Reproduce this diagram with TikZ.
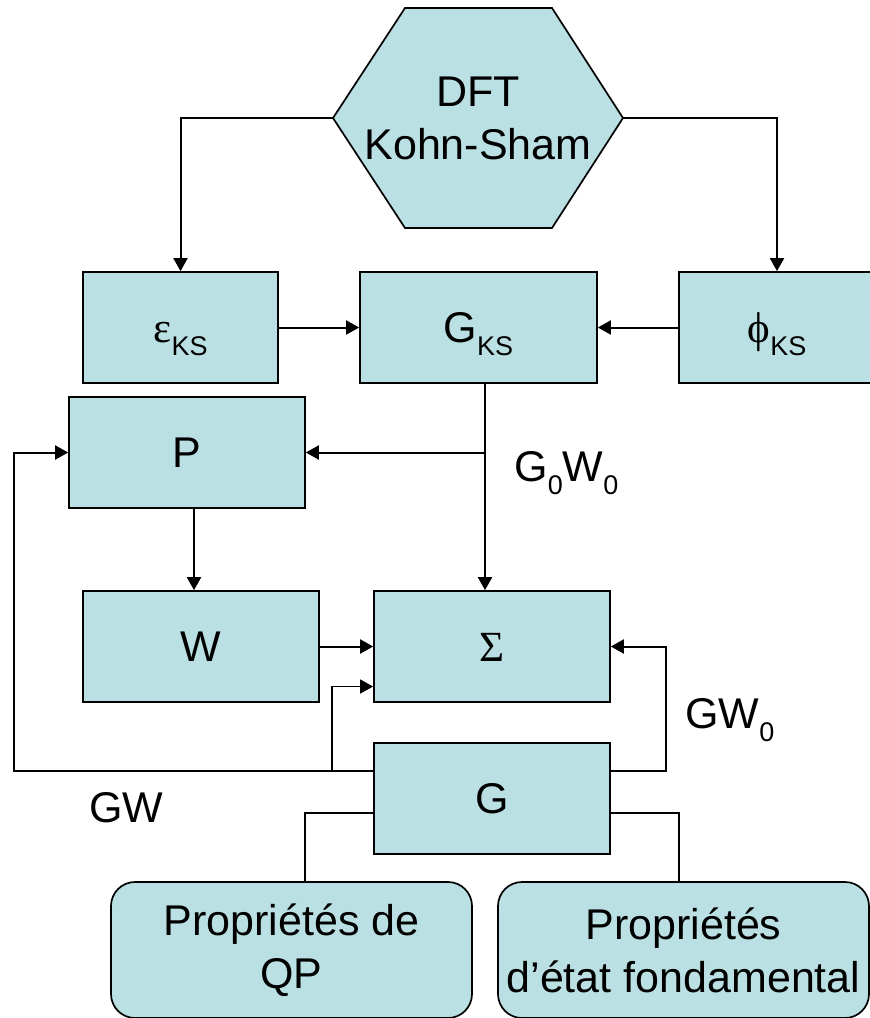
\documentclass[tikz,border=0pt]{standalone}
\usepackage{fontspec}
\setmainfont{Liberation Sans}
\newfontfamily\grkfont{Liberation Serif}
\usetikzlibrary{arrows.meta}
\definecolor{boxfill}{RGB}{187,224,227}
\newcommand{\lowsub}[1]{\raisebox{-6.5pt}{\fontsize{13.5}{13.5}\selectfont #1}}
\begin{document}
\begin{tikzpicture}[x=0.5pt,y=-0.5pt,
  font=\fontsize{21.5}{26.5}\selectfont,
  box/.style={draw=black, line width=0.85pt, fill=boxfill, inner sep=0pt,
    text height=15.4pt, text depth=0pt, minimum height=55.5pt},
  rbox/.style={draw=black, line width=0.85pt, fill=boxfill, inner sep=0pt,
    rounded corners=12pt, align=center, minimum height=68pt},
  arr/.style={line width=1pt, -{Triangle[length=6.5pt,width=7pt]}},
  arrthin/.style={line width=0.75pt, -{Triangle[length=6.5pt,width=7pt]}},
  thinline/.style={line width=0.75pt},
  lbl/.style={anchor=base west, inner sep=0pt}]
\useasboundingbox (0,0) rectangle (870,1018);
\clip (0,0) rectangle (870,1018);
% hexagon
\draw[line width=0.85pt, fill=boxfill] (405,8) -- (552,8) -- (623,118) -- (552,228) -- (405,228) -- (333,118) -- cycle;
\coordinate (hexL) at (333,118);
\coordinate (hexR) at (623,118);
\node[align=center, inner sep=0pt, text depth=0pt] (dft) at (478,118) {DFT\\Kohn-Sham};
% boxes
\node[box, minimum width=97.5pt] (eps) at (180.5,327.5) {{\grkfont ε}\lowsub{KS}};
\node[box, minimum width=118.5pt] (gks) at (478.5,327.5) {G\lowsub{KS}};
\node[box, minimum width=98pt] (phi) at (777,327.5) {{\grkfont ϕ}\lowsub{KS}};
\node[box, minimum width=118pt] (P) at (187,452.5) {P};
\node[box, minimum width=118pt] (W) at (201,646.5) {W};
\node[box, minimum width=118pt] (sig) at (492,646.5) {\grkfont Σ};
\node[box, minimum width=118pt] (G) at (492,798.5) {G};
\node[rbox, minimum width=180.5pt] (qp) at (291.5,950) {Propriétés de\\QP};
\node[rbox, minimum width=185.5pt] (fond) at (683.5,950) {Propriétés\\d’état fondamental};
% helper coordinates
\coordinate (c485) at (485,0);
\coordinate (c194) at (194,0);
\coordinate (gwy) at (0,771);
\coordinate (gy2) at (0,813);
\coordinate (loopL) at (14,600);
\coordinate (loopR) at (666,700);
\coordinate (brx) at (332,0);
\coordinate (c305) at (305,0);
\coordinate (c679) at (679,0);
\path (sig.west) ++(0,40) coordinate (s2);
% connectors
\draw[arr] (hexL) -| (eps.north);
\draw[arr] (hexR) -| (phi.north);
\draw[arr] (eps.east) -- (gks.west);
\draw[arr] (phi.west) -- (gks.east);
\draw[arr] (gks.south -| c485) -- (sig.north -| c485);
\draw[arr] (c485 |- P.east) -- (P.east);
\draw[arr] (P.south -| c194) -- (W.north -| c194);
\draw[arr] (W.east) -- (sig.west);
\draw[arr] (G.west |- gwy) -| (loopL) |- (P.west);
\draw[arrthin] (brx |- gwy) |- (s2);
\draw[arr] (G.east |- gwy) -| (loopR) |- (sig.east);
\draw[thinline] (G.west |- gy2) -| (c305 |- qp.north);
\draw[thinline] (G.east |- gy2) -| (c679 |- fond.north);
% labels
\node[lbl] (l1) at (514,481) {G\lowsub{0}W\lowsub{0}};
\node[lbl] (l2) at (685,728) {GW\lowsub{0}};
\node[lbl] (l3) at (89,822) {GW};
\end{tikzpicture}
\end{document}
